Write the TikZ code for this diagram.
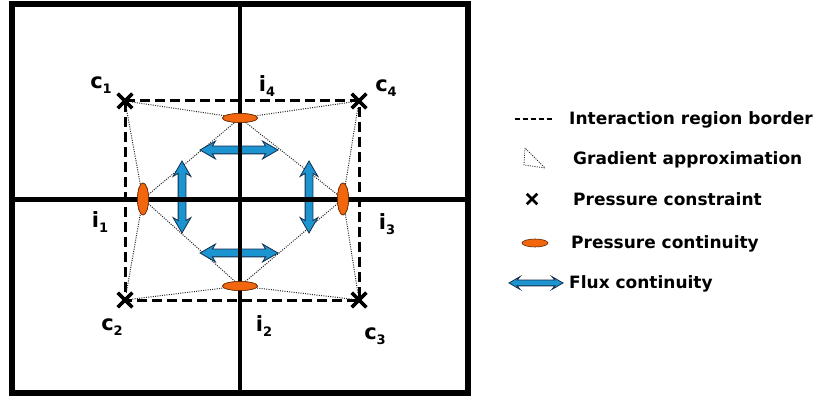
\documentclass[tikz,border=0pt]{standalone}
\usepackage{fontspec}
\setmainfont{DejaVu Sans}
\usetikzlibrary{shapes.geometric,shapes.arrows,shapes.misc}
\definecolor{fluxblue}{RGB}{28,148,208}
\definecolor{fluxedge}{RGB}{20,45,75}
\definecolor{presorange}{RGB}{242,102,14}
\newcommand{\lsub}[1]{\raisebox{-0.45ex}{\fontsize{13}{13}\selectfont #1}}

\begin{document}
\begin{tikzpicture}[x=1pt, y=-1pt,
  every node/.style={font=\bfseries\fontsize{17}{20}\selectfont},
  cellline/.style={line width=4.5pt},
  irborder/.style={line width=3pt, dash pattern=on 10pt off 5pt},
  gradline/.style={line width=1pt, dash pattern=on 1pt off 1.3pt, black!85},
  pconstr/.style={cross out, draw, line width=3.5pt, minimum size=11pt, inner sep=0pt},
  pcont/.style={ellipse, draw=black!60!presorange, fill=presorange, line width=0.6pt, inner sep=0pt},
  flux/.style={double arrow, draw=fluxedge, fill=fluxblue, line width=0.8pt, inner sep=3.5pt,
    double arrow head extend=5pt, double arrow tip angle=60, double arrow head indent=3pt},
  lbl/.style={font=\bfseries\fontsize{21}{24}\selectfont, inner sep=0pt}]
  \useasboundingbox (0,0) rectangle (815,401);

  % grid cells
  \draw[line width=5.5pt] (12,4) rectangle (468,393);

  % pressure constraints (corners)
  \node[pconstr] (c1) at (125,101) {};
  \node[pconstr] (c4) at (359,101) {};
  \node[pconstr] (c2) at (125,300) {};
  \node[pconstr] (c3) at (359,300) {};

  % continuity points
  \node[pcont, minimum width=35pt, minimum height=9pt] (i4) at (240,118) {};
  \node[pcont, minimum width=35pt, minimum height=9pt] (i2) at (240,286) {};
  \node[pcont, minimum width=11pt, minimum height=32pt] (i1) at (143,199) {};
  \node[pcont, minimum width=11pt, minimum height=32pt] (i3) at (343,199) {};

  % interaction region border
  \draw[irborder] (c1.center) -- (c4.center) -- (c3.center) -- (c2.center) -- cycle;

  % gradient approximation triangles
  \foreach \a/\b in {c1/i4,c1/i1,i1/i4,c4/i4,c4/i3,i4/i3,c2/i1,c2/i2,i1/i2,c3/i2,c3/i3,i2/i3}
    \draw[gradline] (\a) -- (\b);

  % flux continuity
  \node[flux, minimum height=78pt] (f4) at (239,150) {};
  \node[flux, minimum height=78pt] (f2) at (239,253) {};
  \node[flux, minimum height=72pt, shape border rotate=90] (f1) at (182,197) {};
  \node[flux, minimum height=72pt, shape border rotate=90] (f3) at (309,197) {};

  \draw[cellline] (240,4) -- (240,393);
  \draw[cellline] (12,199.5) -- (468,199.5);

  % redraw on top of the lines
  \foreach \n/\x/\y/\w/\h in {i4/240/118/35/9, i2/240/286/35/9, i1/143/199/11/32, i3/343/199/11/32}
    \node[pcont, minimum width=\w pt, minimum height=\h pt] at (\x,\y) {};
  \foreach \n/\x/\y in {c1/125/101, c4/359/101, c2/125/300, c3/359/300}
    \node[pconstr] at (\x,\y) {};

  % labels
  \node[lbl] (lc1) at (101,85) {c\lsub{1}};
  \node[lbl] (lc4) at (386,88) {c\lsub{4}};
  \node[lbl] (lc2) at (112,327) {c\lsub{2}};
  \node[lbl] (lc3) at (375,336) {c\lsub{3}};
  \node[lbl] (li4) at (267,86) {i\lsub{4}};
  \node[lbl] (li1) at (100,222) {i\lsub{1}};
  \node[lbl] (li3) at (387,224) {i\lsub{3}};
  \node[lbl] (li2) at (264,326) {i\lsub{2}};

  % legend
  \draw[line width=1.5pt, dash pattern=on 5pt off 3pt] (515,119) -- (552,119);
  \draw[gradline, line width=0.8pt] (525,148) -- (524,165) -- (545,168) -- cycle;
  \node[pconstr, minimum size=8pt, line width=2.5pt] (lgx) at (532,199) {};
  \node[pcont, minimum width=26pt, minimum height=8pt] (lgp) at (535,243) {};
  \node[flux, minimum height=54pt, inner sep=2.5pt, double arrow head extend=3.5pt] (lgf) at (536,283) {};
  \foreach \x/\y/\txt in {569/125/Interaction region border, 573/165/Gradient approximation,
      573/206/Pressure constraint, 571/249/Pressure continuity, 569/289/Flux continuity}
    \node[anchor=base west, inner sep=0pt] at (\x,\y) {\txt};
\end{tikzpicture}
\end{document}
